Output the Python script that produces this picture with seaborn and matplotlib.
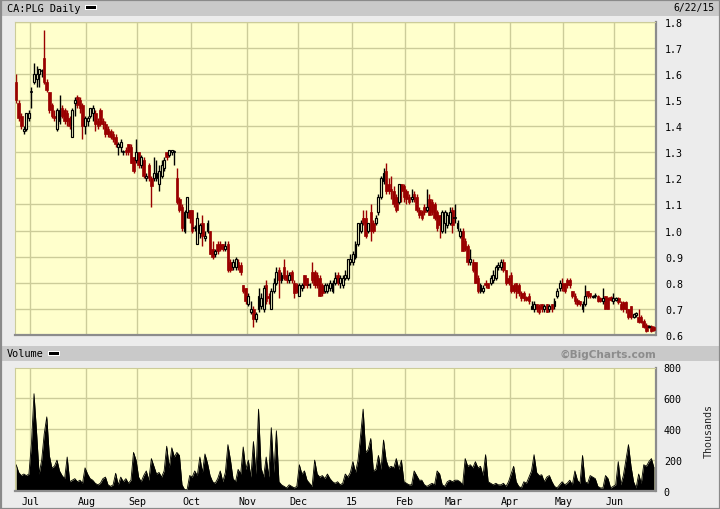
import numpy as np
import pandas as pd
import matplotlib
matplotlib.use("Agg")
import matplotlib.pyplot as plt
from matplotlib.patches import Rectangle
import seaborn as sns

# ---------------- data ----------------
TICKER = "CA:PLG Daily"
LAST_DATE = "6/22/15"
HOLIDAYS = ['2014-07-01', '2014-08-04', '2014-09-01', '2014-10-13', '2014-12-25',
            '2014-12-26', '2015-01-01', '2015-02-16', '2015-04-03', '2015-05-18']
MONTH_LABELS = ['Jul', 'Aug', 'Sep', 'Oct', 'Nov', 'Dec', '15', 'Feb', 'Mar', 'Apr', 'May', 'Jun']
PRICE_TICKS = [0.6, 0.7, 0.8, 0.9, 1.0, 1.1, 1.2, 1.3, 1.4, 1.5, 1.6, 1.7, 1.8]
VOLUME_TICKS = [0, 200, 400, 600, 800]

OPEN = [1.57,1.49,1.44,1.38,1.39,1.43,1.53,1.57,1.58,1.60,1.61,1.66,1.57,1.53,1.48,1.44,1.39,1.42,1.47,1.46,
        1.45,1.43,1.36,1.49,1.51,1.50,1.48,1.40,1.42,1.44,1.45,1.45,1.42,1.46,1.42,1.41,1.39,1.38,1.37,1.36,
        1.32,1.32,1.30,1.31,1.33,1.32,1.28,1.27,1.30,1.25,1.27,1.20,1.25,1.20,1.20,1.20,1.18,1.21,1.24,1.30,
        1.29,1.30,1.30,1.20,1.12,1.09,1.00,1.07,1.08,1.08,1.01,0.95,0.99,1.03,0.97,1.00,1.00,0.93,0.91,0.95,
        0.95,0.95,0.93,0.95,0.88,0.86,0.86,0.88,0.87,0.79,0.78,0.72,0.69,0.70,0.66,0.70,0.71,0.70,0.79,0.75,
        0.70,0.77,0.80,0.85,0.81,0.86,0.83,0.81,0.84,0.80,0.79,0.75,0.78,0.83,0.82,0.79,0.84,0.84,0.83,0.82,
        0.79,0.77,0.77,0.78,0.77,0.80,0.83,0.80,0.79,0.82,0.82,0.88,0.88,0.90,0.95,1.00,1.05,1.05,1.00,1.07,
        1.03,1.03,1.07,1.13,1.19,1.23,1.18,1.16,1.15,1.13,1.11,1.18,1.17,1.15,1.13,1.12,1.14,1.13,1.08,1.07,
        1.09,1.08,1.12,1.11,1.10,1.07,1.06,1.00,1.03,1.02,1.03,1.08,1.05,1.01,0.98,1.00,0.96,0.94,0.88,0.88,
        0.88,0.82,0.77,0.77,0.80,0.80,0.80,0.81,0.82,0.86,0.86,0.88,0.85,0.82,0.83,0.79,0.80,0.79,0.76,0.76,
        0.745,0.75,0.70,0.70,0.72,0.71,0.72,0.70,0.72,0.70,0.72,0.71,0.75,0.78,0.80,0.80,0.81,0.81,0.77,0.75,
        0.735,0.73,0.70,0.72,0.77,0.76,0.745,0.75,0.75,0.74,0.73,0.75,0.74,0.745,0.73,0.735,0.74,0.72,0.725,0.725,
        0.70,0.71,0.67,0.675,0.67,0.67,0.655,0.64,0.63,0.635,0.63]
HIGH = [1.60,1.50,1.45,1.40,1.45,1.46,1.55,1.64,1.63,1.62,1.62,1.77,1.58,1.53,1.49,1.46,1.47,1.52,1.48,1.47,
        1.46,1.44,1.47,1.51,1.52,1.51,1.49,1.44,1.44,1.47,1.48,1.46,1.43,1.47,1.43,1.42,1.40,1.39,1.38,1.37,
        1.34,1.35,1.31,1.32,1.33,1.33,1.28,1.35,1.30,1.29,1.28,1.22,1.26,1.21,1.28,1.27,1.25,1.27,1.28,1.30,
        1.31,1.31,1.31,1.24,1.13,1.10,1.08,1.13,1.08,1.08,1.02,1.07,1.03,1.06,1.00,1.04,1.00,0.96,0.93,0.96,
        0.96,0.95,0.96,0.96,0.89,0.89,0.90,0.89,0.88,0.79,0.78,0.76,0.73,0.71,0.69,0.78,0.76,0.79,0.81,0.76,
        0.78,0.82,0.86,0.86,0.84,0.89,0.85,0.84,0.85,0.81,0.80,0.80,0.80,0.83,0.82,0.80,0.88,0.85,0.84,0.83,
        0.80,0.80,0.80,0.81,0.81,0.84,0.84,0.83,0.83,0.85,0.89,0.91,0.92,0.96,1.03,1.04,1.08,1.08,1.03,1.10,
        1.04,1.06,1.14,1.21,1.24,1.26,1.20,1.21,1.17,1.14,1.18,1.18,1.18,1.16,1.14,1.16,1.15,1.14,1.09,1.08,
        1.10,1.16,1.14,1.12,1.11,1.08,1.06,1.08,1.08,1.07,1.09,1.09,1.10,1.04,1.01,1.01,0.97,0.95,0.93,0.89,
        0.88,0.83,0.80,0.79,0.81,0.80,0.83,0.85,0.87,0.88,0.89,0.89,0.85,0.83,0.84,0.80,0.80,0.80,0.77,0.77,
        0.75,0.76,0.73,0.73,0.72,0.72,0.72,0.72,0.72,0.72,0.72,0.74,0.78,0.81,0.82,0.80,0.82,0.82,0.77,0.76,
        0.74,0.73,0.73,0.79,0.77,0.76,0.755,0.76,0.755,0.745,0.78,0.75,0.745,0.75,0.76,0.745,0.745,0.73,0.73,0.73,
        0.70,0.71,0.685,0.69,0.70,0.675,0.66,0.645,0.64,0.64,0.635]
LOW = [1.49,1.42,1.39,1.37,1.38,1.42,1.47,1.56,1.55,1.55,1.59,1.56,1.53,1.45,1.43,1.42,1.38,1.41,1.43,1.41,
       1.40,1.39,1.36,1.44,1.47,1.45,1.35,1.37,1.40,1.43,1.42,1.38,1.39,1.40,1.39,1.36,1.36,1.35,1.34,1.32,
       1.29,1.30,1.29,1.29,1.29,1.26,1.22,1.26,1.24,1.24,1.20,1.19,1.19,1.09,1.19,1.19,1.15,1.20,1.23,1.27,
       1.28,1.29,1.25,1.10,1.07,1.00,0.99,1.05,1.03,0.99,1.00,0.95,0.97,0.94,0.96,0.99,0.91,0.89,0.90,0.91,
       0.92,0.92,0.92,0.84,0.84,0.85,0.85,0.85,0.83,0.76,0.72,0.71,0.68,0.63,0.65,0.69,0.70,0.69,0.72,0.72,
       0.70,0.76,0.79,0.74,0.80,0.81,0.80,0.80,0.80,0.74,0.76,0.75,0.77,0.78,0.78,0.78,0.80,0.78,0.78,0.75,
       0.75,0.76,0.76,0.77,0.76,0.79,0.79,0.78,0.78,0.81,0.81,0.87,0.87,0.89,0.94,0.99,1.02,0.97,0.99,0.96,
       0.99,1.02,1.06,1.12,1.18,1.14,1.14,1.12,1.09,1.07,1.10,1.11,1.11,1.10,1.10,1.11,1.11,1.07,1.05,1.04,
       1.06,1.07,1.06,1.06,1.04,1.00,0.97,0.99,0.99,1.01,1.02,0.99,1.03,1.00,0.97,0.92,0.92,0.87,0.87,0.84,
       0.80,0.76,0.76,0.76,0.78,0.78,0.79,0.80,0.81,0.85,0.85,0.84,0.79,0.79,0.76,0.76,0.74,0.75,0.73,0.73,
       0.73,0.72,0.70,0.69,0.69,0.68,0.69,0.69,0.69,0.69,0.69,0.70,0.74,0.77,0.77,0.76,0.78,0.78,0.74,0.72,
       0.71,0.71,0.69,0.71,0.74,0.74,0.74,0.74,0.725,0.725,0.72,0.70,0.70,0.73,0.72,0.73,0.72,0.695,0.69,0.685,
       0.66,0.66,0.665,0.67,0.645,0.645,0.625,0.61,0.625,0.61,0.615]
CLOSE = [1.50,1.43,1.40,1.39,1.45,1.45,1.53,1.60,1.60,1.62,1.61,1.57,1.54,1.46,1.44,1.43,1.46,1.46,1.44,1.42,
         1.42,1.40,1.46,1.50,1.48,1.47,1.40,1.43,1.43,1.47,1.47,1.41,1.40,1.41,1.41,1.37,1.37,1.36,1.35,1.33,
         1.33,1.34,1.30,1.30,1.30,1.26,1.23,1.30,1.25,1.28,1.21,1.21,1.20,1.17,1.22,1.22,1.23,1.25,1.27,1.28,
         1.31,1.31,1.30,1.11,1.08,1.01,1.07,1.13,1.05,1.00,1.01,1.05,1.02,0.98,0.98,1.03,0.91,0.90,0.92,0.92,
         0.93,0.93,0.94,0.85,0.85,0.88,0.89,0.86,0.84,0.77,0.73,0.75,0.70,0.66,0.68,0.75,0.74,0.78,0.73,0.74,
         0.77,0.80,0.84,0.81,0.83,0.82,0.81,0.83,0.81,0.76,0.77,0.79,0.79,0.79,0.79,0.79,0.81,0.79,0.79,0.75,
         0.76,0.79,0.79,0.80,0.80,0.82,0.80,0.82,0.82,0.83,0.89,0.89,0.91,0.95,1.03,1.03,1.03,0.98,1.03,1.00,
         1.00,1.05,1.13,1.20,1.22,1.15,1.15,1.15,1.10,1.08,1.18,1.15,1.13,1.12,1.11,1.13,1.12,1.08,1.06,1.05,
         1.07,1.09,1.06,1.07,1.05,1.01,1.02,1.07,1.07,1.06,1.07,1.02,1.05,1.03,1.00,0.92,0.93,0.88,0.89,0.85,
         0.80,0.77,0.79,0.78,0.79,0.78,0.82,0.83,0.86,0.87,0.88,0.85,0.80,0.80,0.77,0.77,0.77,0.76,0.74,0.74,
         0.735,0.73,0.71,0.72,0.70,0.69,0.70,0.71,0.69,0.71,0.70,0.73,0.77,0.80,0.78,0.77,0.79,0.79,0.75,0.73,
         0.72,0.72,0.72,0.75,0.75,0.75,0.75,0.75,0.73,0.73,0.74,0.70,0.70,0.735,0.74,0.74,0.725,0.70,0.70,0.70,
         0.67,0.67,0.68,0.685,0.65,0.65,0.63,0.615,0.635,0.615,0.62]
VOLUME = [170,120,100,110,100,110,310,630,380,110,200,370,480,230,150,160,200,130,100,80,
          220,60,70,80,60,70,50,150,110,80,70,50,40,50,80,90,40,30,40,115,
          40,90,60,80,50,70,250,200,90,60,100,130,70,210,160,110,120,90,130,290,
          150,280,220,250,230,40,10,8,100,90,130,100,220,120,240,180,100,60,50,80,
          130,60,120,300,200,80,60,140,110,285,140,200,90,320,110,530,150,90,220,90,
          410,120,390,60,40,30,20,40,30,20,30,170,110,130,70,50,30,200,110,90,
          100,80,110,80,60,50,60,40,50,110,90,120,190,120,200,360,530,250,270,340,
          130,140,230,140,330,200,150,160,150,210,140,200,60,50,40,40,130,100,70,70,
          40,30,40,50,40,130,110,40,30,60,70,60,70,70,60,40,210,160,170,150,
          190,150,160,100,235,60,50,40,50,40,40,50,30,60,110,160,60,30,20,60,
          50,90,130,235,120,100,105,60,90,100,60,30,20,40,60,40,50,70,40,130,
          70,50,230,60,50,100,90,80,30,20,20,100,80,20,30,40,190,40,100,200,
          300,160,60,20,110,50,170,160,190,210,150]

# ---------------- trading-day axis ----------------
days = pd.bdate_range('2014-06-23', '2015-06-22')
days = days[~days.isin(pd.to_datetime(HOLIDAYS))]
n = len(days)
df = pd.DataFrame({'idx': np.arange(n), 'date': days, 'open': OPEN[:n], 'high': HIGH[:n],
                   'low': LOW[:n], 'close': CLOSE[:n], 'volume': VOLUME[:n]})
month_first = df.groupby(df['date'].dt.to_period('M'))['idx'].min().values[1:]
grid_x = month_first - 0.5

# ---------------- styling ----------------
sns.set_style("white")
plt.rcParams['font.family'] = ['DejaVu Sans Mono', 'DejaVu Sans']
YELLOW = '#FFFFCC'
GRID = '#CCCC99'
RED = '#990000'
EDGE = '#8C8C8C'
W, H = 720, 510

fig = plt.figure(figsize=(7.2, 5.1), dpi=100)
fig.patch.set_facecolor('#ECECEC')

def fig_rect(x0, y0, x1, y1, **kw):
    fig.patches.append(Rectangle((x0 / W, 1 - y1 / H), (x1 - x0) / W, (y1 - y0) / H,
                                 transform=fig.transFigure, **kw))

# header bands
fig_rect(2, 0, 720, 16.5, facecolor='#C9C9C9', edgecolor='none', zorder=0)
fig_rect(2, 347, 720, 362, facecolor='#C9C9C9', edgecolor='none', zorder=0)
fig_rect(85, 6, 97, 11, facecolor='white', edgecolor='none', zorder=1)
fig_rect(86, 7, 96, 10, facecolor='black', edgecolor='none', zorder=2)
fig_rect(48, 352, 60, 357, facecolor='white', edgecolor='none', zorder=1)
fig_rect(49, 353, 59, 356, facecolor='black', edgecolor='none', zorder=2)
fig_rect(0.5, 0.5, 719.5, 509.5, facecolor='none', edgecolor='#8A8A8A', linewidth=1.6, zorder=5)

fig.text(7 / W, 1 - 8.5 / H, TICKER, fontsize=7.4, va='center', ha='left', color='black')
fig.text(714 / W, 1 - 8.5 / H, LAST_DATE, fontsize=7.0, va='center', ha='right', color='black')
fig.text(7 / W, 1 - 354.5 / H, 'Volume', fontsize=7.4, va='center', ha='left', color='black')
fig.text(656 / W, 1 - 354.5 / H, '\u00a9BigCharts.com', fontsize=7.6, va='center', ha='right',
         color='#8C8C8C', fontweight='bold', family=['DejaVu Sans'])
fig.text(709 / W, 1 - 431 / H, 'Thousands', fontsize=7.2, rotation=90, va='center', ha='center')

x0_px, x1_px = 14.5, 655.5
ax_p = fig.add_axes([x0_px / W, 1 - 336 / H, (x1_px - x0_px) / W, (336 - 22.7) / H])
ax_v = fig.add_axes([x0_px / W, 1 - 492 / H, (x1_px - x0_px) / W, (492 - 368.5) / H])

for ax in (ax_p, ax_v):
    ax.set_facecolor(YELLOW)
    ax.set_xlim(-0.65, n - 0.4)
    for s in ('top', 'left'):
        ax.spines[s].set_color(GRID)
        ax.spines[s].set_linewidth(0.8)
    for s in ('bottom', 'right'):
        ax.spines[s].set_color(EDGE)
        ax.spines[s].set_linewidth(1.6)
    ax.yaxis.tick_right()
    ax.tick_params(axis='both', length=0, labelsize=7.2, colors='black')
    for gx in grid_x:
        ax.axvline(gx, color=GRID, lw=1.0, zorder=0.5)

# ---------------- price candles ----------------
ax_p.set_ylim(0.6, 1.8)
ax_p.set_yticks(PRICE_TICKS)
ax_p.set_yticklabels([f'{t:.1f}' for t in PRICE_TICKS])
ax_p.tick_params(axis='y', pad=7)
ax_p.set_xticks([])
for t in PRICE_TICKS:
    ax_p.axhline(t, color=GRID, lw=1.0, zorder=0.5)

up = df[df['close'] > df['open']]
down = df[df['close'] < df['open']]
flat = df[df['close'] == df['open']]

ax_p.vlines(down['idx'], down['low'], down['high'], color=RED, lw=1.0, zorder=2)
ax_p.vlines(up['idx'], up['low'], up['high'], color='black', lw=1.0, zorder=2)
ax_p.vlines(flat['idx'], flat['low'], flat['high'], color='black', lw=1.0, zorder=2)
ax_p.bar(down['idx'], down['open'] - down['close'], bottom=down['close'], width=1.0,
         color=RED, edgecolor=RED, linewidth=0.5, zorder=3)
ax_p.bar(up['idx'], up['close'] - up['open'], bottom=up['open'], width=0.75,
         facecolor=YELLOW, edgecolor='black', linewidth=0.85, zorder=3)
ax_p.hlines(flat['close'], flat['idx'] - 0.6, flat['idx'] + 0.6, color='black', lw=1.1, zorder=3)

# ---------------- volume ----------------
ax_v.set_ylim(0, 800)
ax_v.set_yticks(VOLUME_TICKS)
ax_v.set_yticklabels([str(v) for v in VOLUME_TICKS])
ax_v.tick_params(axis='y', pad=6)
for t in VOLUME_TICKS[1:-1]:
    ax_v.axhline(t, color=GRID, lw=1.0, zorder=0.5)
ax_v.fill_between(df['idx'], 0, df['volume'], color='black', linewidth=0, zorder=2)
sns.lineplot(x=df['idx'], y=df['volume'], ax=ax_v, color='black', lw=0.6, zorder=2)
ax_v.set_xlabel('')
ax_v.set_ylabel('')
ax_v.set_xticks(grid_x)
ax_v.set_xticklabels(MONTH_LABELS)
ax_v.tick_params(axis='x', pad=3.5)

fig.savefig('out.png', dpi=100, facecolor=fig.get_facecolor())
